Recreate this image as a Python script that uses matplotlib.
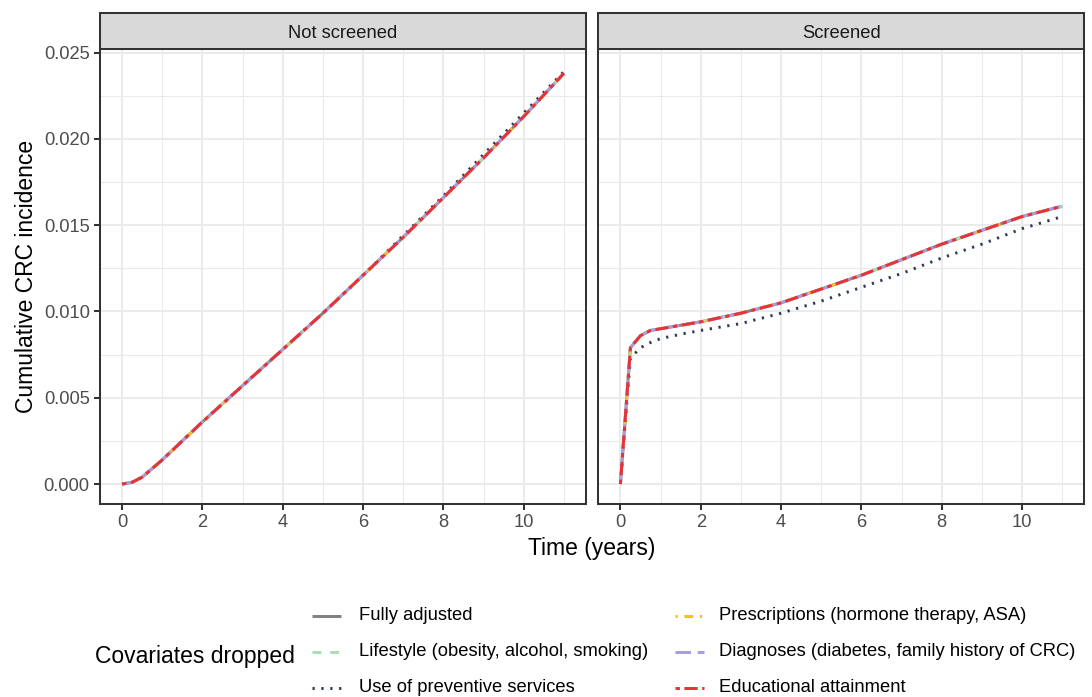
import matplotlib
matplotlib.use("Agg")
import matplotlib.pyplot as plt
from matplotlib.lines import Line2D

plt.rcParams['font.family'] = ['Liberation Sans', 'DejaVu Sans']

# ---------------- data ----------------
time = [0, 0.25, 0.5, 0.75, 1, 1.5, 2, 3, 4, 5, 6, 7, 8, 9, 10, 11]

# Not screened
ns_main = [0, 0.0001, 0.0004, 0.0009, 0.0014, 0.0025, 0.0036, 0.0057, 0.0078,
           0.0099, 0.0121, 0.0143, 0.0166, 0.0189, 0.0213, 0.0238]
ns_prev = [0, 0.0001, 0.0004, 0.0009, 0.0014, 0.0025, 0.0036, 0.0057, 0.0078,
           0.0099, 0.0121, 0.0144, 0.0167, 0.0191, 0.0215, 0.0239]
# Screened
sc_main = [0, 0.0079, 0.0086, 0.0089, 0.0090, 0.0092, 0.0094, 0.0099, 0.0105,
           0.0113, 0.0121, 0.0130, 0.0139, 0.0147, 0.0155, 0.0161]
sc_prev = [0, 0.0073, 0.0079, 0.0082, 0.00843, 0.00868, 0.0089, 0.0093, 0.0099,
           0.0106, 0.0114, 0.0122, 0.0131, 0.0139, 0.0148, 0.0155]

panels = ["Not screened", "Screened"]
series_names = ["Fully adjusted",
                "Lifestyle (obesity, alcohol, smoking)",
                "Use of preventive services",
                "Prescriptions (hormone therapy, ASA)",
                "Diagnoses (diabetes, family history of CRC)",
                "Educational attainment"]
colors = ["#808080", "#a9dcb8", "#2b3a57", "#f7be2a", "#a59de0", "#e8323a"]
# ggplot linetypes: solid, dashed(44), dotted(13), dotdash(1343), longdash(73), twodash(2262)
lty = [None, (4, 4), (1, 3), (1, 3, 4, 3), (7, 3), (2, 2, 6, 2)]

data = {
    "Not screened": [ns_main, ns_main, ns_prev, ns_main, ns_main, ns_main],
    "Screened": [sc_main, sc_main, sc_prev, sc_main, sc_main, sc_main],
}

W, H = 1092, 697
LW = 2.13
DSCALE = 0.75

fig = plt.figure(figsize=(W / 100, H / 100), dpi=100)


def style_line(line, i):
    if lty[i] is not None:
        line.set_dashes([d * DSCALE for d in lty[i]])
    line.set_dash_capstyle('butt')
    line.set_solid_capstyle('butt')


panel_lefts = [100, 598.3]
panel_w = 486
top, bot = 49, 503.7
strip_top = 12.7
for k, name in enumerate(panels):
    ax = fig.add_axes([panel_lefts[k] / W, (H - bot) / H, panel_w / W, (bot - top) / H])
    for i, sname in enumerate(series_names):
        ln, = ax.plot(time, data[name][i], color=colors[i], lw=LW, zorder=3 + i)
        style_line(ln, i)
    ax.set_xlim(-0.55, 11.55)
    ax.set_ylim(-0.00114, 0.02521)
    ax.set_xticks([0, 2, 4, 6, 8, 10])
    ax.set_xticks([1, 3, 5, 7, 9, 11], minor=True)
    ax.set_yticks([0, 0.005, 0.010, 0.015, 0.020, 0.025])
    ax.set_yticks([0.0025, 0.0075, 0.0125, 0.0175, 0.0225], minor=True)
    ax.grid(which='major', color='#ebebeb', lw=1.5, zorder=0)
    ax.grid(which='minor', color='#ebebeb', lw=0.75, zorder=0)
    ax.set_axisbelow(True)
    for sp in ax.spines.values():
        sp.set_color('#333333')
        sp.set_linewidth(1.45)
        sp.set_zorder(20)
    ax.tick_params(which='minor', length=0)
    ax.tick_params(which='major', length=4.1, width=1.45, color='#333333',
                   labelsize=13.2, labelcolor='#4d4d4d', pad=3.3)
    if k == 0:
        ax.set_yticklabels(["0.000", "0.005", "0.010", "0.015", "0.020", "0.025"])
    else:
        ax.tick_params(axis='y', left=False, labelleft=False)
    # strip
    sax = fig.add_axes([panel_lefts[k] / W, (H - top) / H, panel_w / W, (top - strip_top) / H])
    sax.set_xticks([])
    sax.set_yticks([])
    sax.set_facecolor('#d9d9d9')
    for sp in sax.spines.values():
        sp.set_color('#333333')
        sp.set_linewidth(1.45)
    sax.text(0.5, 0.44, name, ha='center', va='center', fontsize=13.2, color='#1a1a1a',
             transform=sax.transAxes)

fig.text(592 / W, 1 - 549 / H, "Time (years)", ha='center', va='center', fontsize=16.5)
fig.text(27 / W, 1 - 276 / H, "Cumulative CRC incidence", ha='center', va='center',
         fontsize=16.5, rotation=90)

# ---------------- legend ----------------
lax = fig.add_axes([0, 0, 1, 1], facecolor='none')
lax.set_xlim(0, W)
lax.set_ylim(H, 0)
lax.axis('off')
lax.text(95, 656, "Covariates dropped", ha='left', va='center', fontsize=16.5)
rows = [616, 652, 688]
cols = [(312, 341, 359), (675, 704, 719)]
for i, sname in enumerate(series_names):
    c = i // 3
    r = i % 3
    x0, x1, xt = cols[c]
    ln = Line2D([x0, x1], [rows[r], rows[r]], color=colors[i], lw=LW)
    style_line(ln, i)
    lax.add_line(ln)
    lax.text(xt, rows[r], sname, ha='left', va='center', fontsize=13.2)

fig.savefig("out.png", dpi=100)
